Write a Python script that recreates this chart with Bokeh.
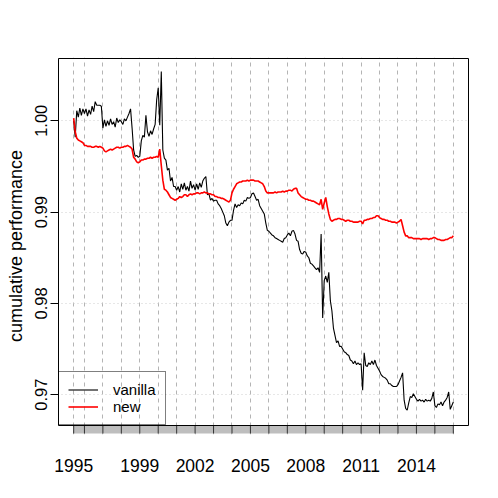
import numpy as np
import pandas as pd
from bokeh.plotting import figure
from bokeh.models import FixedTicker, Legend, LegendItem
from bokeh.embed import file_html
from bokeh.resources import INLINE

# ---- data (monthly observations, first one June 1995) ----
first_month = "1995-06-01"
vanilla = [
    1.0000, 0.9982, 1.0011, 1.0004, 1.0014, 1.0006, 1.0013,
    1.0008, 1.0013, 1.0005, 1.0012, 1.0007, 1.0016, 1.0010, 1.0021, 1.0017, 1.0017, 1.0017, 1.0016,
    0.9992, 1.0001, 0.9994, 1.0000, 0.9995, 1.0002, 0.9996, 0.9999, 0.9993, 1.0003, 0.9998, 1.0001,
    0.9999, 0.9996, 1.0002, 1.0000, 1.0004, 1.0008, 1.0013, 0.9992, 0.9968, 0.9961, 0.9962, 0.9960,
    0.9961, 0.9978, 0.9984, 0.9982, 1.0006, 0.9988, 0.9983, 0.9989, 0.9985, 0.9991, 0.9996, 1.0023,
    1.0036, 0.9995, 1.0054, 0.9968, 0.9959, 0.9957, 0.9946, 0.9948, 0.9934, 0.9938, 0.9928, 0.9928,
    0.9924, 0.9928, 0.9922, 0.9931, 0.9925, 0.9932, 0.9924, 0.9928, 0.9923, 0.9934, 0.9926, 0.9930,
    0.9924, 0.9931, 0.9925, 0.9932, 0.9927, 0.9934, 0.9937, 0.9939, 0.9919, 0.9920, 0.9913, 0.9915,
    0.9912, 0.9913, 0.9913, 0.9909, 0.9907, 0.9904, 0.9900, 0.9896, 0.9888, 0.9885, 0.9889, 0.9891,
    0.9891, 0.9902, 0.9909, 0.9905, 0.9908, 0.9907, 0.9910, 0.9909, 0.9913, 0.9912, 0.9916, 0.9915,
    0.9916, 0.9920, 0.9921, 0.9917, 0.9913, 0.9914, 0.9907, 0.9904, 0.9901, 0.9898, 0.9888, 0.9880,
    0.9879, 0.9877, 0.9875, 0.9874, 0.9872, 0.9871, 0.9870, 0.9869, 0.9868, 0.9867, 0.9871, 0.9872,
    0.9875, 0.9877, 0.9874, 0.9879, 0.9880, 0.9876, 0.9869, 0.9868, 0.9859, 0.9855, 0.9854, 0.9857,
    0.9856, 0.9852, 0.9850, 0.9844, 0.9843, 0.9841, 0.9839, 0.9837, 0.9839, 0.9834, 0.9876, 0.9784,
    0.9825, 0.9830, 0.9823, 0.9834, 0.9803, 0.9792, 0.9773, 0.9765, 0.9757, 0.9759, 0.9753, 0.9753,
    0.9750, 0.9747, 0.9746, 0.9744, 0.9743, 0.9738, 0.9737, 0.9734, 0.9737, 0.9733, 0.9735, 0.9733,
    0.9734, 0.9705, 0.9746, 0.9732, 0.9731, 0.9735, 0.9733, 0.9737, 0.9733, 0.9738, 0.9732, 0.9729,
    0.9726, 0.9722, 0.9720, 0.9719, 0.9718, 0.9716, 0.9712, 0.9712, 0.9710, 0.9709, 0.9709, 0.9709,
    0.9711, 0.9715, 0.9719, 0.9724, 0.9694, 0.9685, 0.9683, 0.9691, 0.9698, 0.9697, 0.9701, 0.9698,
    0.9695, 0.9693, 0.9695, 0.9693, 0.9694, 0.9692, 0.9695, 0.9693, 0.9694, 0.9693, 0.9696, 0.9703,
    0.9688, 0.9686, 0.9690, 0.9689, 0.9692, 0.9688, 0.9692, 0.9694, 0.9697, 0.9703, 0.9684, 0.9688,
    0.9692,
]
new = [
    1.0003, 0.9988, 0.9981, 0.9979, 0.9978, 0.9977, 0.9976,
    0.9973, 0.9973, 0.9972, 0.9972, 0.9972, 0.9971, 0.9971, 0.9972, 0.9972, 0.9971, 0.9972, 0.9971,
    0.9970, 0.9967, 0.9966, 0.9967, 0.9968, 0.9969, 0.9968, 0.9969, 0.9970, 0.9971, 0.9971, 0.9970,
    0.9971, 0.9971, 0.9972, 0.9972, 0.9973, 0.9972, 0.9971, 0.9969, 0.9960, 0.9958, 0.9955, 0.9954,
    0.9955, 0.9957, 0.9957, 0.9958, 0.9958, 0.9959, 0.9959, 0.9960, 0.9959, 0.9960, 0.9960, 0.9961,
    0.9960, 0.9969, 0.9951, 0.9935, 0.9925, 0.9924, 0.9922, 0.9919, 0.9916, 0.9915, 0.9914, 0.9913,
    0.9914, 0.9915, 0.9917, 0.9916, 0.9917, 0.9919, 0.9919, 0.9917, 0.9919, 0.9920, 0.9919, 0.9920,
    0.9920, 0.9921, 0.9921, 0.9920, 0.9921, 0.9921, 0.9922, 0.9921, 0.9921, 0.9920, 0.9920, 0.9919,
    0.9919, 0.9917, 0.9917, 0.9916, 0.9916, 0.9915, 0.9915, 0.9914, 0.9913, 0.9912, 0.9911, 0.9913,
    0.9921, 0.9925, 0.9928, 0.9931, 0.9932, 0.9933, 0.9933, 0.9934, 0.9934, 0.9934, 0.9935, 0.9934,
    0.9935, 0.9935, 0.9935, 0.9934, 0.9934, 0.9934, 0.9933, 0.9932, 0.9931, 0.9928, 0.9923, 0.9921,
    0.9921, 0.9921, 0.9921, 0.9921, 0.9922, 0.9921, 0.9922, 0.9922, 0.9922, 0.9923, 0.9922, 0.9923,
    0.9923, 0.9924, 0.9924, 0.9923, 0.9925, 0.9926, 0.9926, 0.9921, 0.9919, 0.9917, 0.9916, 0.9915,
    0.9914, 0.9914, 0.9913, 0.9913, 0.9912, 0.9912, 0.9911, 0.9910, 0.9909, 0.9908, 0.9914, 0.9903,
    0.9910, 0.9916, 0.9906, 0.9898, 0.9892, 0.9890, 0.9891, 0.9892, 0.9892, 0.9893, 0.9893, 0.9892,
    0.9892, 0.9891, 0.9890, 0.9891, 0.9891, 0.9890, 0.9890, 0.9889, 0.9889, 0.9889, 0.9889, 0.9890,
    0.9890, 0.9887, 0.9891, 0.9891, 0.9892, 0.9892, 0.9893, 0.9893, 0.9894, 0.9894, 0.9896, 0.9896,
    0.9894, 0.9893, 0.9892, 0.9892, 0.9891, 0.9891, 0.9890, 0.9890, 0.9889, 0.9889, 0.9889, 0.9888,
    0.9889, 0.9890, 0.9892, 0.9885, 0.9878, 0.9874, 0.9874, 0.9872, 0.9872, 0.9872, 0.9871, 0.9871,
    0.9871, 0.9871, 0.9871, 0.9870, 0.9871, 0.9871, 0.9871, 0.9871, 0.9870, 0.9871, 0.9871, 0.9872,
    0.9872, 0.9871, 0.9870, 0.9870, 0.9869, 0.9869, 0.9869, 0.9870, 0.9870, 0.9871, 0.9872, 0.9872,
    0.9874,
]
x_tick_labels = ["1995", "1999", "2002", "2005", "2008", "2011", "2014"]
y_ticks = [0.97, 0.98, 0.99, 1.00]
y_tick_labels = ["0.97", "0.98", "0.99", "1.00"]
series_names = ["vanilla", "new"]
y_title = "cumulative performance"

# ---- x positions from the observation dates ----
dates = pd.date_range(first_month, periods=len(vanilla), freq="MS")
x = (dates.year + (dates.month - 1) / 12.0).to_numpy(dtype=float)
year_marks = [x[0]] + [x[i] for i in range(len(x)) if dates.month[i] == 1]
label_pos = [max(float(lab), x[0]) for lab in x_tick_labels]

# ---- plot region (R style: 4% padding) ----
span = x[-1] - x[0]
X0, X1 = x[0] - 0.04 * span, x[-1] + 0.04 * span
Y0, Y1 = 0.96663, 1.00682
BOX_W, BOX_H, BAR_H = 410, 367, 8
dx = (X1 - X0) / BOX_W
dy = (Y1 - Y0) / BOX_H
bar_bottom = Y0 - BAR_H * dy

FONT = "Liberation Sans"
p = figure(width=498, height=498,
           x_range=(X0 - dx, X1 + dx), y_range=(Y0 - (BAR_H + 1) * dy, Y1 + dy),
           output_backend="svg", toolbar_location=None,
           min_border_left=57, min_border_right=29, min_border_top=57, min_border_bottom=64)
p.outline_line_color = None
p.background_fill_color = "white"
p.border_fill_color = "white"

# grids
p.xgrid.ticker = FixedTicker(ticks=year_marks)
p.xgrid.grid_line_color = "#B4B4B4"
p.xgrid.grid_line_dash = "4 4"
p.ygrid.ticker = FixedTicker(ticks=y_ticks)
p.ygrid.grid_line_color = "#CFCFCF"
p.ygrid.grid_line_dash = "1 3"

# series
r_v = p.line(x, vanilla, line_color="black", line_width=1.1)
r_n = p.line(x, new, line_color="#FF0000", line_width=1.6)

# time bar below the box
p.quad(left=x[0], right=x[-1], bottom=bar_bottom, top=Y0,
       fill_color="#BEBEBE", line_color=None)
p.segment(x0=year_marks, y0=bar_bottom, x1=year_marks, y1=Y0,
          line_color="#333333", line_width=1)

# box
p.quad(left=X0, right=X1, bottom=Y0, top=Y1, fill_color=None,
       line_color="black", line_width=1)

# x axis
xa = p.xaxis[0]
xa.ticker = FixedTicker(ticks=label_pos)
xa.major_label_overrides = {pos: lab for pos, lab in zip(label_pos, x_tick_labels)}
xa.axis_line_color = None
xa.major_tick_line_color = None
xa.minor_tick_line_color = None
xa.major_label_standoff = 18
xa.major_label_text_font = FONT
xa.major_label_text_font_size = "17.5px"
xa.major_label_text_color = "black"

# y axis
ya = p.yaxis[0]
ya.ticker = FixedTicker(ticks=y_ticks)
ya.major_label_overrides = {v: s for v, s in zip(y_ticks, y_tick_labels)}
ya.major_label_orientation = "vertical"
ya.axis_line_color = None
ya.minor_tick_line_color = None
ya.major_tick_line_color = "black"
ya.major_tick_out = 7
ya.major_tick_in = 1
ya.major_label_standoff = 3
ya.major_label_text_font = FONT
ya.major_label_text_font_size = "16.5px"
ya.major_label_text_color = "black"
ya.axis_label = y_title
ya.axis_label_standoff = 7
ya.axis_label_text_font = FONT
ya.axis_label_text_font_size = "18px"
ya.axis_label_text_font_style = "normal"
ya.axis_label_text_color = "black"

# legend
legend = Legend(items=[LegendItem(label=series_names[0], renderers=[r_v]),
                       LegendItem(label=series_names[1], renderers=[r_n])],
                location=(1, 9), orientation="vertical",
                padding=9, spacing=0, margin=0,
                glyph_width=30, glyph_height=17, label_height=17, label_standoff=15,
                label_text_font=FONT, label_text_font_size="15px", label_text_color="black",
                border_line_color="black", border_line_width=1,
                background_fill_alpha=0.0)
p.add_layout(legend)

open("out.html", "w").write(file_html(p, INLINE))
